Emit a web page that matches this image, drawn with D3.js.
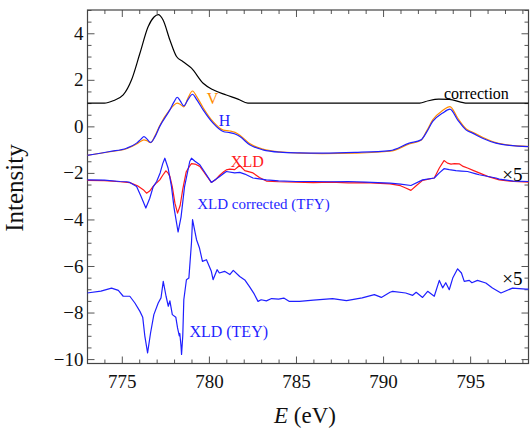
<!DOCTYPE html>
<html>
<head>
<meta charset="utf-8">
<script src="https://cdn.jsdelivr.net/npm/d3@7"></script>
<style>
  text { font-family: "Liberation Serif", "Times New Roman", serif !important; }
</style>
</head>
<body style="margin:0">
<div id="chart"></div>
<script>
// Data: [energy (eV), intensity]
const correction = [
  [773, 1], [774.0, 1], [774.5, 1.1], [775.08, 1.35], [775.56, 2.0], [776.04, 3.14],
  [776.51, 4.28], [776.85, 4.7], [777.09, 4.8], [777.37, 4.57], [777.76, 3.71],
  [778.14, 3.0], [778.52, 2.78], [779.0, 2.5], [779.67, 1.85], [780.24, 1.57],
  [781.0, 1.35], [781.67, 1.17], [782.24, 1.0], [792.1, 1.0], [792.6, 1.1],
  [793.2, 1.17], [793.8, 1.16], [794.6, 1.02], [794.8, 1.0], [798.4, 1.0]
];

const specH = [
  [773, -1.25], [774.32, -1.08], [775.27, -0.94], [775.85, -0.72], [776.1, -0.55],
  [776.27, -0.44], [776.45, -0.55], [776.65, -0.69], [776.9, -0.45], [777.18, 0.0],
  [777.76, 0.71], [778.0, 1.05], [778.18, 1.25], [778.35, 1.1], [778.56, 0.88],
  [778.8, 1.15], [779.06, 1.38], [779.3, 1.15], [779.67, 0.71], [780.24, 0.14],
  [780.82, -0.22], [781.2, -0.27], [781.5, -0.33], [781.78, -0.44], [782.34, -0.79],
  [783.1, -1.01], [784.06, -1.11], [785.2, -1.14], [786.5, -1.15], [788.4, -1.12],
  [790.4, -1.04], [791.5, -0.72], [792.18, -0.58], [792.5, -0.25], [792.85, 0.21],
  [793.42, 0.57], [793.84, 0.74], [794.28, 0.28], [794.76, -0.15], [795.14, -0.29],
  [795.71, -0.51], [796.48, -0.72], [797.24, -0.82], [798.4, -0.87]
];

const specV = [
  [773, -1.25], [774.32, -1.09], [775.27, -0.96], [775.85, -0.76], [776.1, -0.64],
  [776.27, -0.58], [776.45, -0.62], [776.65, -0.7], [776.9, -0.42], [777.18, 0.04],
  [777.76, 0.72], [778.0, 0.92], [778.18, 1.0], [778.35, 0.95], [778.56, 0.84],
  [778.8, 1.22], [779.06, 1.52], [779.3, 1.28], [779.67, 0.8], [780.24, 0.2],
  [780.82, -0.16], [781.2, -0.2], [781.5, -0.26], [781.78, -0.38], [782.34, -0.74],
  [783.1, -0.98], [784.06, -1.1], [785.2, -1.15], [786.5, -1.17], [788.4, -1.15],
  [790.4, -1.07], [791.5, -0.76], [792.18, -0.6], [792.5, -0.2], [792.85, 0.28],
  [793.42, 0.68], [793.84, 0.85], [794.28, 0.36], [794.76, -0.1], [795.14, -0.25],
  [795.71, -0.47], [796.48, -0.7], [797.24, -0.81], [798.4, -0.87]
];

const xldRaw = [
  [773, -2.32], [774, -2.33], [774.9, -2.38], [775.46, -2.42], [775.9, -2.55],
  [776.23, -2.72], [776.42, -2.87], [776.6, -2.78], [776.8, -2.58], [777.0, -2.42],
  [777.18, -2.3], [777.35, -2.1], [777.53, -1.91], [777.65, -2.0], [777.76, -2.15],
  [777.9, -2.6], [778.05, -3.3], [778.2, -3.73], [778.35, -3.4], [778.5, -2.7],
  [778.7, -1.95], [778.9, -1.7], [779.0, -1.6], [779.2, -1.62], [779.48, -1.72],
  [779.7, -1.95], [779.86, -2.12], [780.14, -2.41], [780.4, -2.28], [780.62, -2.1],
  [780.85, -1.95], [781.0, -1.87], [781.2, -1.84], [781.48, -1.86], [781.77, -1.68],
  [782.06, -1.9], [782.53, -2.0], [782.9, -2.2], [783.3, -2.35], [784, -2.38],
  [785, -2.4], [786, -2.42], [787, -2.4], [788, -2.43], [789, -2.42], [790.4, -2.47],
  [791.0, -2.55], [791.3, -2.65], [791.6, -2.75], [791.9, -2.55], [792.27, -2.32],
  [792.94, -2.22], [793.23, -1.79], [793.5, -1.47], [793.7, -1.58], [793.9, -1.62],
  [794.1, -1.6], [794.37, -1.61], [794.6, -1.72], [794.85, -1.79], [795.2, -1.9],
  [795.52, -2.0], [796.0, -2.15], [796.67, -2.3], [797.5, -2.37], [798.4, -2.4]
];

const xldTFY = [
  [773, -2.3], [774, -2.31], [774.9, -2.37], [775.27, -2.38], [775.46, -2.41],
  [775.85, -2.58], [776.1, -3.0], [776.38, -3.51], [776.6, -3.1], [776.8, -2.6],
  [777.0, -2.37], [777.2, -2.0], [777.35, -1.6], [777.47, -1.37], [777.66, -1.8],
  [777.85, -2.58], [778.0, -3.5], [778.23, -4.54], [778.4, -3.9], [778.6, -2.6],
  [778.9, -1.51], [779.0, -1.37], [779.2, -1.5], [779.48, -1.65], [779.86, -2.08],
  [780.14, -2.41], [780.62, -2.15], [781.0, -1.94], [781.48, -2.0], [781.77, -1.98],
  [782.06, -2.05], [782.53, -2.22], [783.3, -2.3], [784, -2.34], [785, -2.37],
  [786, -2.37], [787, -2.38], [788, -2.37], [789, -2.4], [790.4, -2.44], [791.0, -2.48],
  [791.6, -2.54], [792.27, -2.3], [792.94, -2.22], [793.23, -2.0], [793.5, -1.82],
  [793.8, -1.86], [794.18, -1.9], [794.5, -1.92], [794.85, -1.94], [795.33, -2.04],
  [795.52, -2.08], [796.48, -2.22], [796.67, -2.27], [797.5, -2.35], [798.4, -2.37]
];

const xldTEY = [
  [773, -7.16], [773.8, -7.08], [774.41, -6.95], [774.8, -7.05], [775.08, -7.3],
  [775.46, -7.3], [775.75, -7.59], [776.04, -7.95], [776.2, -8.2], [776.32, -9.0],
  [776.48, -9.73], [776.65, -8.88], [776.84, -8.09], [777.09, -7.59], [777.25, -7.37],
  [777.38, -6.66], [777.54, -7.3], [777.67, -7.73], [777.76, -7.5], [777.9, -8.09],
  [778.1, -8.2], [778.2, -8.66], [778.3, -9.0], [778.33, -8.9], [778.4, -9.45],
  [778.43, -9.8], [778.5, -9.0], [778.56, -7.45], [778.71, -6.59], [778.85, -6.52],
  [779.0, -5.0], [779.06, -4.01], [779.29, -4.87], [779.46, -5.23], [779.63, -5.8],
  [779.86, -5.73], [780.14, -6.23], [780.24, -6.59], [780.47, -6.16], [780.6, -6.3],
  [780.9, -6.23], [781.2, -6.37], [781.4, -6.19], [781.77, -6.45], [782.06, -6.6],
  [782.34, -6.9], [782.6, -7.2], [782.82, -7.52], [783.0, -7.45], [783.3, -7.5],
  [783.6, -7.4], [784.0, -7.42], [784.3, -7.38], [784.6, -7.52], [785.2, -7.52],
  [786, -7.47], [787.1, -7.4], [787.9, -7.49], [788.8, -7.37], [789.5, -7.23],
  [789.9, -7.35], [790.4, -7.13], [790.55, -7.09], [791.3, -7.16], [791.7, -7.26],
  [791.9, -7.13], [792.27, -7.35], [792.56, -7.09], [792.94, -7.3], [793.23, -6.62],
  [793.42, -6.94], [793.6, -6.72], [793.8, -7.02], [794.0, -6.52], [794.28, -6.12],
  [794.5, -6.3], [794.66, -6.66], [794.95, -6.62], [795.1, -6.72], [795.42, -6.62],
  [795.9, -6.73], [796.28, -6.95], [796.77, -7.16], [797.43, -6.95], [798.2, -6.99],
  [798.4, -6.99]
];

const xTicks = [775, 780, 785, 790, 795];
const yTicks = [4, 2, 0, -2, -4, -6, -8, -10];

const FONT = "Liberation Serif";

// Layout
const W = 530, H = 430;
const margin = {top: 10, right: 1.5, bottom: 66.5, left: 87.5};
const w = W - margin.left - margin.right;
const h = H - margin.top - margin.bottom;

const svg = d3.select("#chart").append("svg")
  .attr("width", W)
  .attr("height", H);

const g = svg.append("g").attr("transform", `translate(${margin.left},${margin.top})`);

const x = d3.scaleLinear().domain([773.03, 798.35]).range([0, w]);
const y = d3.scaleLinear().domain([-10.19, 5.0]).range([h, 0]);

g.append("clipPath").attr("id", "clip")
  .append("rect").attr("width", w).attr("height", h);

const fmt = d => (d < 0 ? "\u2212" + Math.abs(d) : d);

// Axes with inward ticks on all four sides
const minorX = d3.range(774, 799, 1).filter(v => !xTicks.includes(v));
const minorY = d3.range(-10, 5.01, 0.5).filter(v => v % 2 !== 0);

function styleAxis(sel) {
  sel.attr("font-family", FONT).attr("font-size", 19);
  sel.select(".domain").remove();
  sel.selectAll("line").attr("stroke", "#555").attr("stroke-width", 1);
  sel.selectAll("text")
    .attr("font-family", FONT)
    .style("font-family", FONT)
    .attr("font-size", 19)
    .attr("fill", "#111");
}

g.append("g").attr("transform", `translate(0,${h})`)
  .call(d3.axisBottom(x).tickValues(xTicks).tickSize(-7).tickPadding(11).tickFormat(fmt))
  .call(styleAxis);
g.append("g").attr("transform", `translate(0,${h})`)
  .call(d3.axisBottom(x).tickValues(minorX).tickSize(-4).tickFormat(""))
  .call(styleAxis);
g.append("g")
  .call(d3.axisTop(x).tickValues(xTicks).tickSize(-7).tickFormat(""))
  .call(styleAxis);
g.append("g")
  .call(d3.axisTop(x).tickValues(minorX).tickSize(-4).tickFormat(""))
  .call(styleAxis);

g.append("g")
  .call(d3.axisLeft(y).tickValues(yTicks).tickSize(-7).tickPadding(4).tickFormat(fmt))
  .call(styleAxis);
g.append("g")
  .call(d3.axisLeft(y).tickValues(minorY).tickSize(-4).tickFormat(""))
  .call(styleAxis);
g.append("g").attr("transform", `translate(${w},0)`)
  .call(d3.axisRight(y).tickValues(yTicks).tickSize(-7).tickFormat(""))
  .call(styleAxis);
g.append("g").attr("transform", `translate(${w},0)`)
  .call(d3.axisRight(y).tickValues(minorY).tickSize(-4).tickFormat(""))
  .call(styleAxis);

// Frame
g.append("rect")
  .attr("width", w).attr("height", h)
  .attr("fill", "none").attr("stroke", "#444").attr("stroke-width", 1.2);

// Curves
const smooth = d3.line().x(d => x(d[0])).y(d => y(d[1])).curve(d3.curveMonotoneX);
const sharp = d3.line().x(d => x(d[0])).y(d => y(d[1]));

const curves = g.append("g").attr("clip-path", "url(#clip)")
  .attr("fill", "none").attr("stroke-width", 1.2).attr("stroke-linejoin", "round");

curves.append("path").datum(correction).attr("d", smooth).attr("stroke", "#000");
curves.append("path").datum(specV).attr("d", smooth).attr("stroke", "#ff8c00");
curves.append("path").datum(specH).attr("d", smooth).attr("stroke", "#1f1fff");
curves.append("path").datum(xldRaw).attr("d", sharp).attr("stroke", "#ff1a1a");
curves.append("path").datum(xldTFY).attr("d", sharp).attr("stroke", "#1f1fff");
curves.append("path").datum(xldTEY).attr("d", sharp).attr("stroke", "#1f1fff");

// Labels inside plot
const labels = [
  {t: "correction", e: 793.5, v: 1.18, c: "#000", s: 16},
  {t: "V", e: 779.88, v: 0.97, c: "#ff8c00", s: 16},
  {t: "H", e: 780.57, v: 0.02, c: "#1f1fff", s: 16},
  {t: "XLD", e: 781.26, v: -1.74, c: "#ff1a1a", s: 16},
  {t: "\u00d75", e: 796.85, v: -2.33, c: "#000", s: 19},
  {t: "XLD corrected (TFY)", e: 779.33, v: -3.54, c: "#1f1fff", s: 15},
  {t: "\u00d75", e: 796.85, v: -6.8, c: "#000", s: 19},
  {t: "XLD (TEY)", e: 778.88, v: -9.03, c: "#1f1fff", s: 16}
];
g.selectAll("text.lbl").data(labels).enter().append("text")
  .attr("class", "lbl")
  .attr("x", d => x(d.e))
  .attr("y", d => y(d.v))
  .attr("fill", d => d.c)
  .attr("font-size", d => d.s)
  .attr("font-family", FONT)
  .style("font-family", FONT)
  .text(d => d.t);

// Axis titles
const xt = svg.append("text")
  .attr("x", margin.left + w / 2 - 3)
  .attr("y", 423)
  .attr("text-anchor", "middle")
  .attr("font-size", 23)
  .attr("font-family", FONT)
  .style("font-family", FONT)
  .attr("fill", "#111");
xt.append("tspan").attr("font-style", "italic").text("E");
xt.append("tspan").text(" (eV)");

svg.append("text")
  .attr("transform", "translate(23,188) rotate(-90)")
  .attr("text-anchor", "middle")
  .attr("font-size", 25)
  .attr("font-family", FONT)
  .style("font-family", FONT)
  .attr("fill", "#111")
  .text("Intensity");
</script>
</body>
</html>
